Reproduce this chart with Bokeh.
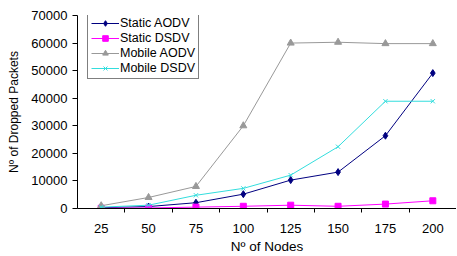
from bokeh.plotting import figure
from bokeh.models import FixedTicker, NumeralTickFormatter, Range1d, Legend, LegendItem
from bokeh.embed import file_html
from bokeh.resources import INLINE

nodes = ["25", "50", "75", "100", "125", "150", "175", "200"]
static_aodv = [300, 700, 2100, 5200, 10300, 13200, 26400, 49100]
static_dsdv = [100, 200, 500, 800, 1200, 800, 1600, 2800]
mobile_aodv = [1000, 4000, 8000, 30000, 60000, 60300, 59800, 59800]
mobile_dsdv = [500, 1200, 4800, 7300, 12100, 22400, 38900, 38900]
y_ticks = [0, 10000, 20000, 30000, 40000, 50000, 60000, 70000]

FONT = "Liberation Sans"
xs = list(range(len(nodes)))

p = figure(frame_width=379, frame_height=193, output_backend="svg", toolbar_location=None,
           x_range=Range1d(-0.5, len(nodes) - 0.5), y_range=Range1d(0, 70000),
           min_border_left=77, min_border_right=0, min_border_top=15, min_border_bottom=30)
p.outline_line_color = None
p.xgrid.visible = False
p.ygrid.visible = False
p.background_fill_color = "white"
p.border_fill_color = "white"

r1 = p.line(xs, static_aodv, line_color="#000080", line_width=1)
m1 = p.scatter(xs, static_aodv, marker="diamond", size=7, color="#000080")
r2 = p.line(xs, static_dsdv, line_color="#FF00FF", line_width=1)
m2 = p.scatter(xs, static_dsdv, marker="square", size=6, color="#FF00FF")
r3 = p.line(xs, mobile_aodv, line_color="#999999", line_width=1)
m3 = p.scatter(xs, mobile_aodv, marker="triangle", size=7, color="#999999")
r4 = p.line(xs, mobile_dsdv, line_color="#33DDDD", line_width=1)
m4 = p.scatter(xs, mobile_dsdv, marker="x", size=6, line_color="#33DDDD", line_width=1)

# x axis
p.xaxis.ticker = FixedTicker(ticks=xs, minor_ticks=[i + 0.5 for i in xs[:-1]])
p.xaxis.major_label_overrides = {i: n for i, n in zip(xs, nodes)}
p.xaxis.major_tick_out = 0
p.xaxis.major_tick_in = 0
p.xaxis.minor_tick_out = 4
p.xaxis.minor_tick_in = 0
p.xaxis.major_label_standoff = 11
p.xaxis.axis_label = "Nº of Nodes"
p.xaxis.axis_label_standoff = 3

# y axis
p.yaxis.ticker = FixedTicker(ticks=y_ticks)
p.yaxis.formatter = NumeralTickFormatter(format="0")
p.yaxis.major_tick_out = 5
p.yaxis.major_tick_in = 0
p.yaxis.minor_tick_out = 0
p.yaxis.minor_tick_in = 0
p.yaxis.major_label_standoff = 5
p.yaxis.axis_label = "Nº of Dropped Packets"
p.yaxis.axis_label_standoff = 7

for ax in (p.xaxis, p.yaxis):
    ax.axis_line_color = "black"
    ax.axis_line_width = 1
    ax.major_tick_line_color = "black"
    ax.minor_tick_line_color = "black"
    ax.major_label_text_font = FONT
    ax.major_label_text_font_size = "13px"
    ax.major_label_text_color = "black"
    ax.axis_label_text_font = FONT
    ax.axis_label_text_font_style = "normal"
    ax.axis_label_text_color = "black"
p.xaxis.axis_label_text_font_size = "13.5px"
p.yaxis.axis_label_text_font_size = "12px"

legend = Legend(items=[
    LegendItem(label="Static AODV", renderers=[r1, m1]),
    LegendItem(label="Static DSDV", renderers=[r2, m2]),
    LegendItem(label="Mobile AODV", renderers=[r3, m3]),
    LegendItem(label="Mobile DSDV", renderers=[r4, m4]),
], location=(10, 129))
legend.border_line_color = "black"
legend.border_line_width = 1
legend.background_fill_color = "white"
legend.background_fill_alpha = 1
legend.label_text_font = FONT
legend.label_text_font_size = "12.5px"
legend.label_text_color = "black"
legend.glyph_width = 28
legend.glyph_height = 14
legend.label_height = 14
legend.label_standoff = 1
legend.spacing = 1
legend.padding = 3
legend.margin = 0
p.add_layout(legend, "center")

open("out.html", "w").write(file_html(p, INLINE))
